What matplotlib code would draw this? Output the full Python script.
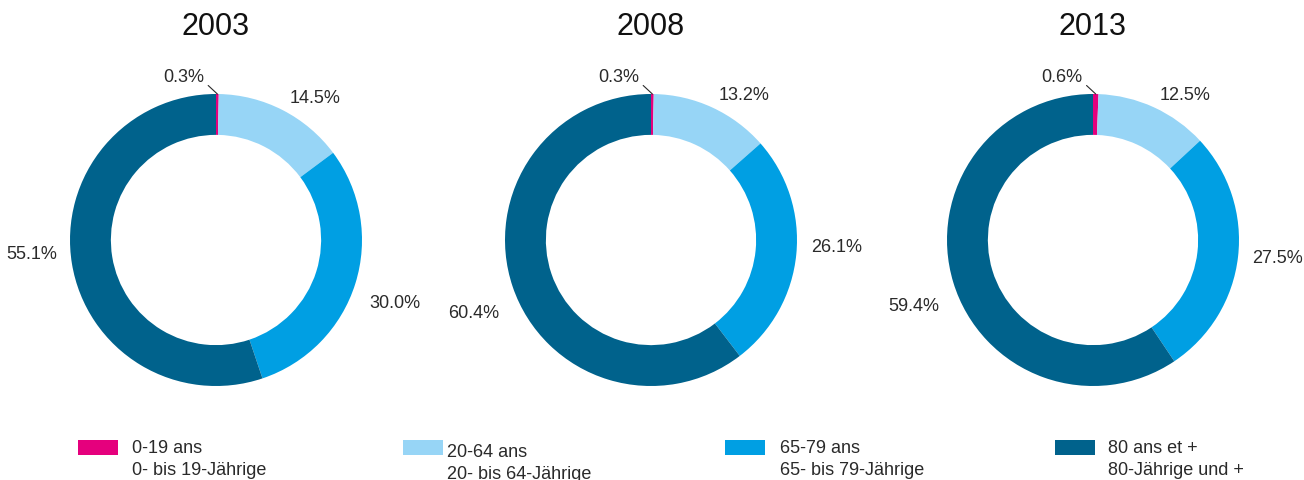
import matplotlib
matplotlib.use("Agg")
import matplotlib.pyplot as plt
from matplotlib.patches import Rectangle
import numpy as np

plt.rcParams['font.family'] = ['Liberation Sans', 'DejaVu Sans']

years = ['2003', '2008', '2013']
shares = {
    '2003': [0.3, 14.5, 30.0, 55.1],
    '2008': [0.3, 13.2, 26.1, 60.4],
    '2013': [0.6, 12.5, 27.5, 59.4],
}
labels_fr = ['0-19 ans', '20-64 ans', '65-79 ans', '80 ans et +']
labels_de = ['0- bis 19-Jährige', '20- bis 64-Jährige', '65- bis 79-Jährige', '80-Jährige und +']
colours = ['#E5007D', '#97D5F6', '#009FE3', '#00628C']
txt_col = '#2a2a2a'

W, H = 1304, 481
fig = plt.figure(figsize=(W / 100, H / 100), dpi=100)

centres = [216, 651, 1093]   # pixel x of each donut centre
cy = 241
R = 146                      # outer radius in pixels
half = 150
# small vertical nudges (pixels, + = down) of the value labels, like the original
nudge = {
    '2003': [0, 0, 15, -12],
    '2008': [0, 0, -9, 21],
    '2013': [0, 0, -1, 19],
}

for cx, yr in zip(centres, years):
    ax = fig.add_axes([(cx - half) / W, (H - cy - half) / H, 2 * half / W, 2 * half / H])
    vals = shares[yr]
    wedges, texts = ax.pie(vals, labels=[f'{v:.1f}%' for v in vals], colors=colours,
                           startangle=90, counterclock=False, labeldistance=1.1,
                           wedgeprops=dict(width=0.28, linewidth=0),
                           textprops=dict(fontsize=13, color=txt_col))
    lim = half / R
    ax.set_xlim(-lim, lim)
    ax.set_ylim(-lim, lim)
    ax.set_aspect('equal')

    for t, dy in zip(texts, nudge[yr]):
        x, y = t.get_position()
        t.set_position((x, y - dy / R))

    # small slice gets a leader line instead
    texts[0].set_visible(False)
    w0 = wedges[0]
    ang = np.deg2rad((w0.theta1 + w0.theta2) / 2)
    ax.annotate(texts[0].get_text(), xy=(np.cos(ang), np.sin(ang)),
                xytext=(-13, 18), textcoords='offset pixels',
                ha='right', va='center', fontsize=13, color=txt_col,
                arrowprops=dict(arrowstyle='-', color=txt_col, lw=0.8,
                                shrinkA=1, shrinkB=0, relpos=(1.0, 0.15)))

    ax.text(0.5, 1 + (cy - half - 27) / (2 * half), yr, transform=ax.transAxes,
            ha='center', va='center', fontsize=22, color='#111111')

# legend drawn by hand
leg_x = [78, 403, 725, 1055]
txt_x = [132, 447, 780, 1108]
shift = [0, 4, 0, 0]
for i in range(4):
    fig.add_artist(Rectangle((leg_x[i] / W, (H - 456) / H), 40 / W, 15 / H,
                             transform=fig.transFigure, color=colours[i], lw=0))
    fig.text(txt_x[i] / W, 1 - (449 + shift[i]) / H, labels_fr[i],
             ha='left', va='center', fontsize=13, color=txt_col)
    fig.text(txt_x[i] / W, 1 - (471 + shift[i]) / H, labels_de[i],
             ha='left', va='center', fontsize=13, color=txt_col)

fig.savefig('out.png', dpi=100)
